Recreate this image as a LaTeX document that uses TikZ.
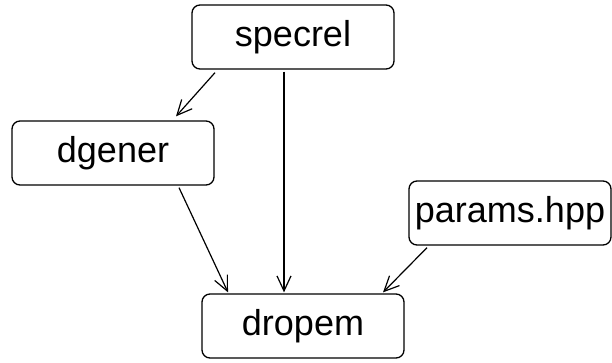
\documentclass[tikz,border=0pt]{standalone}
\usepackage{fontspec}
\setmainfont{Liberation Sans}
\usetikzlibrary{arrows.meta, positioning, shapes}

\tikzset{
    depbox/.style={rectangle, draw, rounded corners=8pt, line width=1.3pt, minimum width=202pt, minimum height=64pt, inner sep=2pt, font=\fontsize{36}{40}\selectfont},
    dep/.style={line width=1.2pt, -{Straight Barb[length=15pt, width=14pt, line width=1.2pt]}}
}

\begin{document}
\begin{tikzpicture}[x=1pt, y=-1pt]
        \useasboundingbox (0,0) rectangle (612,362);

        \node at (293, 37) [depbox] (specrel) {specrel};
        \node at (113, 153) [depbox] (dgener) {dgener};
        \node at (510, 213) [depbox] (params) {params.hpp};
        \node at (303, 326) [depbox] (dropem) {dropem};

        \draw   ([xshift=-78pt, yshift=-3pt]specrel.south)  edge[dep]  ([xshift=63pt, yshift=4pt]dgener.north)
                ([xshift=-9pt, yshift=-2pt]specrel.south)   edge[dep]  ([xshift=-19pt, yshift=1pt]dropem.north)
                ([xshift=66pt, yshift=-2pt]dgener.south)    edge[dep]  ([xshift=-75pt, yshift=1pt]dropem.north)
                ([xshift=-83pt, yshift=-2pt]params.south)   edge[dep]  ([xshift=80pt, yshift=1pt]dropem.north)
            ;

    \end{tikzpicture}
\end{document}
